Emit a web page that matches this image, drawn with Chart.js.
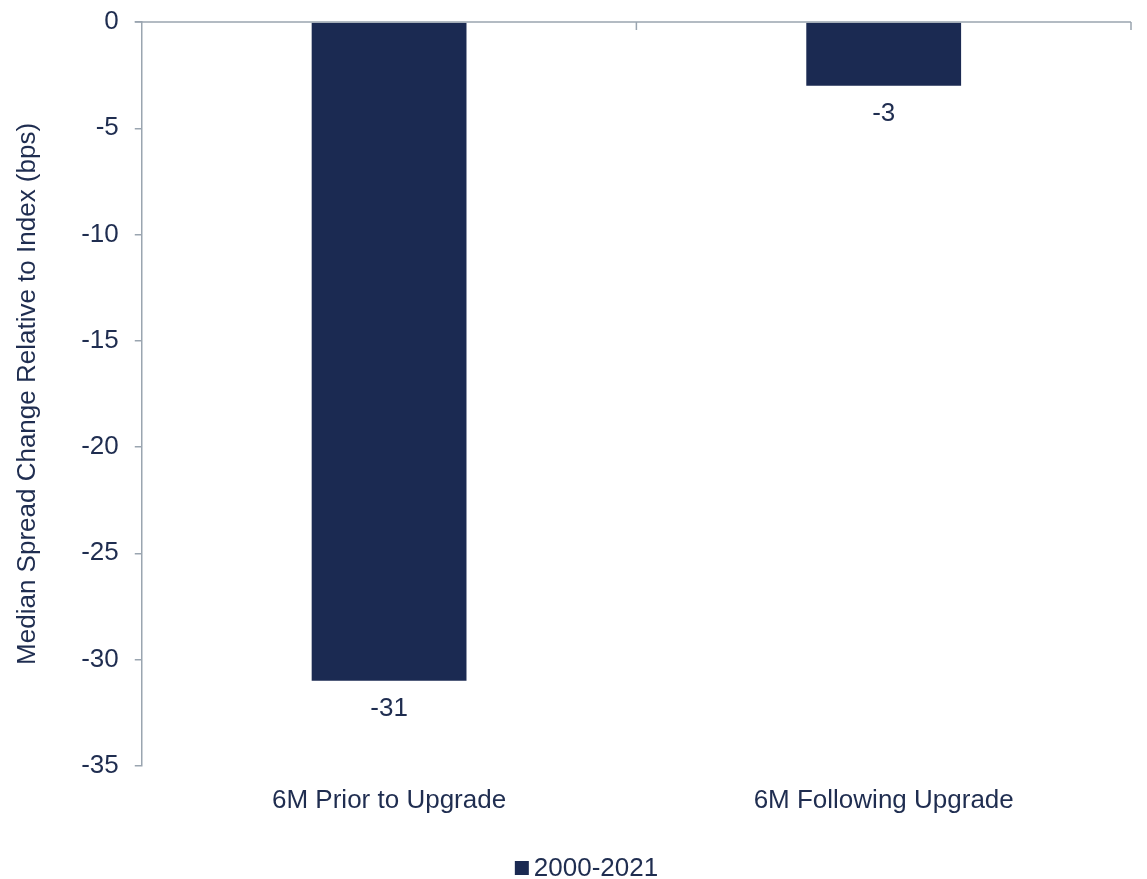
<!DOCTYPE html>
<html>
<head>
<meta charset="utf-8">
<script src="https://cdn.jsdelivr.net/npm/chart.js@4.4.0/dist/chart.umd.min.js"></script>
<style>
  html, body { margin: 0; padding: 0; background: #fff; }
  #wrap { width: 1147px; height: 879px; }
</style>
</head>
<body>
<div id="wrap"><canvas id="spreadChart"></canvas></div>
<script>
// ===== DATA =====
const categories = ['6M Prior to Upgrade', '6M Following Upgrade'];
const seriesName = '2000-2021';
const spreadChange = [-31, -3];
const yTicks = [0, -5, -10, -15, -20, -25, -30, -35];

const NAVY = '#1b2a52';
const TEXT = '#1f2d50';
const AXIS = '#9aa5b0';
const FONT = 'Liberation Sans, Arial, sans-serif';
const FS = 26;

// top axis line at zero with category boundary ticks
const zeroAxis = {
  id: 'zeroAxis',
  afterDatasetsDraw(chart) {
    const { ctx, scales: { x, y } } = chart;
    const y0 = y.getPixelForValue(0);
    const step = (x.right - x.left) / categories.length;
    ctx.save();
    ctx.strokeStyle = AXIS;
    ctx.lineWidth = 1.5;
    ctx.beginPath();
    ctx.moveTo(x.left - 7, y0);
    ctx.lineTo(x.right, y0);
    for (let i = 1; i <= categories.length; i++) {
      const px = x.left + step * i;
      ctx.moveTo(px, y0);
      ctx.lineTo(px, y0 + 8);
    }
    ctx.stroke();
    ctx.restore();
  }
};

// value labels under each bar end
const valueLabels = {
  id: 'valueLabels',
  afterDatasetsDraw(chart) {
    const { ctx } = chart;
    const meta = chart.getDatasetMeta(0);
    ctx.save();
    ctx.fillStyle = TEXT;
    ctx.font = FS + 'px ' + FONT;
    ctx.textAlign = 'center';
    ctx.textBaseline = 'middle';
    meta.data.forEach((bar, i) => {
      ctx.fillText(String(spreadChange[i]), bar.x, bar.y + 28);
    });
    ctx.restore();
  }
};

// compact legend: small square right next to the series name
const seriesKey = {
  id: 'seriesKey',
  afterDraw(chart) {
    const { ctx } = chart;
    ctx.save();
    ctx.font = FS + 'px ' + FONT;
    const tw = ctx.measureText(seriesName).width;
    const total = 14 + 5 + tw;
    const left = chart.width / 2 + 13 - total / 2;
    const cy = chart.height - 11;
    ctx.fillStyle = NAVY;
    ctx.fillRect(left, cy - 7, 14, 14);
    ctx.fillStyle = TEXT;
    ctx.textAlign = 'left';
    ctx.textBaseline = 'middle';
    ctx.fillText(seriesName, left + 19, cy + 1);
    ctx.restore();
  }
};

new Chart(document.getElementById('spreadChart').getContext('2d'), {
  type: 'bar',
  data: {
    labels: categories,
    datasets: [{
      label: seriesName,
      data: spreadChange,
      backgroundColor: NAVY,
      borderWidth: 0,
      categoryPercentage: 1,
      barPercentage: 0.313
    }]
  },
  options: {
    responsive: true,
    maintainAspectRatio: false,
    animation: false,
    layout: { autoPadding: false, padding: { top: 22, right: 16, left: 0, bottom: 52 } },
    plugins: {
      legend: { display: false },
      tooltip: { enabled: false }
    },
    scales: {
      y: {
        min: -35,
        max: 0,
        afterBuildTicks: axis => { axis.ticks = yTicks.map(v => ({ value: v })); },
        // the "0" label may sit above the plot area, no extra room needed
        afterFit: axis => { axis.paddingTop = 0; },
        ticks: { color: TEXT, font: { family: FONT, size: FS }, padding: 16 },
        grid: { drawOnChartArea: false, color: AXIS, lineWidth: 1.5, tickLength: 7 },
        border: { color: AXIS, width: 1.5 },
        title: {
          display: true,
          text: 'Median Spread Change Relative to Index (bps)',
          color: TEXT,
          font: { family: FONT, size: FS },
          padding: { top: 12, bottom: 22 }
        }
      },
      x: {
        ticks: { color: TEXT, font: { family: FONT, size: FS }, padding: 11 },
        grid: { display: false },
        border: { display: false }
      }
    }
  },
  plugins: [zeroAxis, valueLabels, seriesKey]
});
</script>
</body>
</html>
